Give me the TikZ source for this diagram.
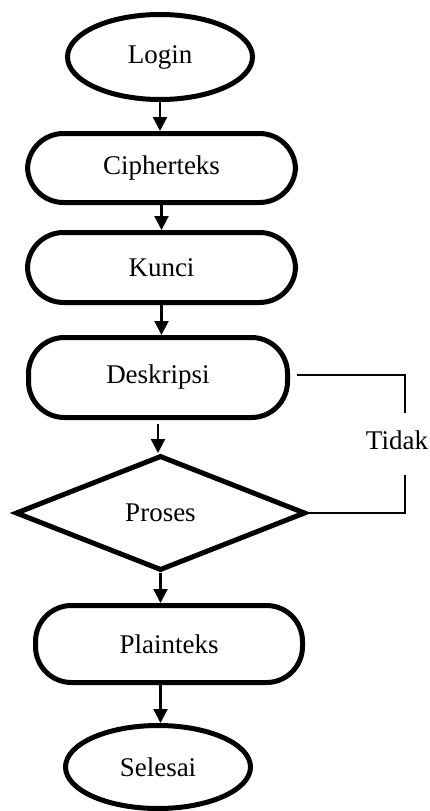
\documentclass[tikz,border=0pt]{standalone}
\usepackage{fontspec}
\setmainfont{Liberation Serif}
\usetikzlibrary{shapes.geometric,arrows.meta}
\begin{document}
\begin{tikzpicture}[x=1pt,y=-1pt,
  every node/.style={font=\fontsize{27}{32}\selectfont,inner sep=0pt},
  term/.style={ellipse,draw,line width=5pt},
  proc/.style={rectangle,draw,line width=5pt,rounded corners=36pt},
  dec/.style={diamond,draw,line width=5pt},
  flow/.style={line width=2.2pt,-{Triangle[width=14pt,length=14pt]}},
  back/.style={line width=1.4pt}]
\useasboundingbox (0,0) rectangle (430,811);
\node[term,minimum width=185pt,minimum height=85pt] (login) at (160,57) {Login};
\node[proc,minimum width=268pt,minimum height=69pt] (ciph) at (161.5,168) {\raisebox{-6pt}{Cipherteks}};
\node[proc,minimum width=268pt,minimum height=70pt] (kunci) at (161.5,267.5) {Kunci};
\node[proc,minimum width=259pt,minimum height=80pt] (desk) at (158,377.5) {Deskripsi};
\node[dec,minimum width=290pt,minimum height=115pt] (proses) at (160.5,513) {Proses};
\node[proc,minimum width=267pt,minimum height=77pt] (plain) at (169,644) {Plainteks};
\node[term,minimum width=185pt,minimum height=83pt] (selesai) at (158,767) {Selesai};
\node (tidak) at (397,440) {Tidak};
\coordinate (d1) at (297,375);
\coordinate (d2) at (405,375);
\coordinate (d3) at (405,413);
\coordinate (p1) at (405,475);
\coordinate (p2) at (405,513);
\draw[flow] (login.south) -- (login.south |- ciph.north);
\draw[flow] (ciph.south) -- (kunci.north);
\draw[flow] (kunci.south) -- (kunci.south |- desk.north);
\draw[flow] ([yshift=-4pt]desk.south) -- (desk.south |- proses.north);
\draw[flow] (proses.south) -- (proses.south |- plain.north);
\draw[flow] (plain.south -| proses.south) -- (proses.south |- selesai.north);
\draw[back] (d1) -- (d2) -- (d3);
\draw[back] (p1) -- (p2) -- (proses.east);
\end{tikzpicture}
\end{document}
